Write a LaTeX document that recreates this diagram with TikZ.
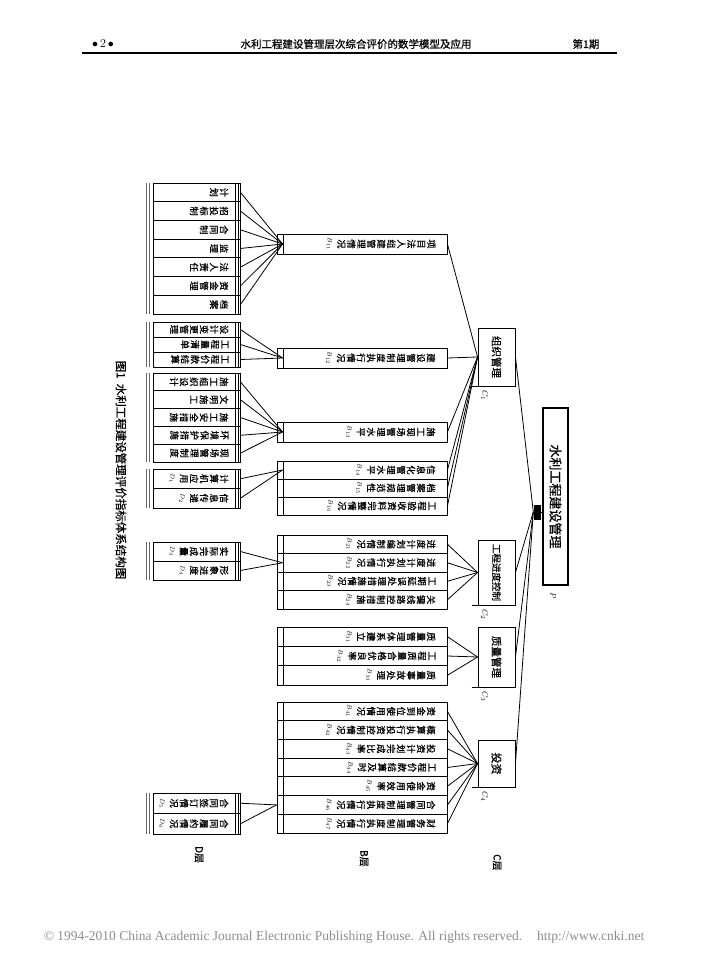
\documentclass[tikz,border=0pt]{standalone}
\usepackage{fontspec}
\newfontfamily\cjk[FakeBold=0.8]{Noto Sans CJK SC}
\newfontfamily\tms{Liberation Serif}
\usetikzlibrary{calc}
\ExplSyntaxOn
\NewDocumentCommand{\vt}{m}{
  \tl_set:No \l_tmpa_tl {#1}
  \seq_clear:N \l_tmpa_seq
  \tl_map_inline:Nn \l_tmpa_tl { \seq_put_right:Nn \l_tmpa_seq {##1} }
  \seq_use:Nn \l_tmpa_seq { \\ }
}
\ExplSyntaxOff
\newcommand\lbl[1]{{\fontsize{6.5}{7}\selectfont$#1$}}
\tikzset{
  bx/.style={draw, line width=0.9pt, inner sep=0pt},
  vtx/.style={rotate=-90, align=center, inner sep=0pt, anchor=north, font=\cjk\fontsize{9.2}{10}\selectfont},
  htx/.style={rotate=-90, inner sep=0pt, font=\cjk\fontsize{10}{10}\selectfont},
  lab/.style={rotate=-90, inner sep=0pt, anchor=west, font=\fontsize{8}{8}\selectfont},
  cn/.style={line width=0.8pt},
  deco/.style={line width=0.55pt},
}
% #1 prefix, #2 x-centre, #3 width, #4 top, #5 row height, #6 list
\newcommand\rows[6]{%
  \foreach \i/\t in {#6} {
    \node[bx, minimum width=#3, minimum height=#5] (#1-\i) at (#2, {#4+(\i-0.5)*#5}) {};
    \node[vtx] at ($(#1-\i.east)+(-12,0)$) {\vt{\t}};
  }%
}
\newcommand\ddeco[2]{%
  \draw[deco] (235.5,#1) -- (235.5,#2);
  \draw[deco] (237.8,#1) -- (237.8,#2);
  \draw[deco, black!60] (146,#1) -- (146,#2);
  \draw[deco, black!60] (149,#1) -- (149,#2);
}
\begin{document}
\begin{tikzpicture}[x=1pt,y=-1pt]
\useasboundingbox (0,0) rectangle (727,968);
% header
\node[font=\fontsize{12}{12}\selectfont] (h1) at (103,44) {$\bullet$\,2\,$\bullet$};
\node[font=\cjk\fontsize{10.5}{11}\selectfont] (h2) at (356,44) {水利工程建设管理层次综合评价的数学模型及应用};
\node[font=\cjk\fontsize{10.5}{11}\selectfont] (h3) at (586,44) {第1期};
\draw[line width=1.6pt] (82,53) -- (617,53);
% caption
\node[htx, font=\cjk\fontsize{11.5}{12}\selectfont] (cap) at (121,470) {图1\ \ 水利工程建设管理评价指标体系结构图};
% root
\node[bx, line width=1.1pt, minimum width=25, minimum height=177] (root) at (555.5,496.5) {};
\node[htx, font=\cjk\fontsize{13}{13}\selectfont] (roott) at (root) {水利工程建设管理};
\node[lab] (lp) at (553,592) {$P$};
\node[fill=black, inner sep=0pt, minimum width=7, minimum height=15] (hub) at (537,512) {};
\draw[cn] (hub.east) -- (hub.east -| root.west);
% level 1
\node[bx, minimum width=37, minimum height=58] (c1) at (496.5,357) {};
\node[bx, minimum width=37, minimum height=65] (c2) at (496.5,572.5) {};
\node[bx, minimum width=37, minimum height=60] (c3) at (496.5,657) {};
\node[bx, minimum width=37, minimum height=47] (c4) at (496.5,763.5) {};
\node[htx, font=\cjk\fontsize{10.5}{11}\selectfont] at (c1) {组织管理};
\node[htx, font=\cjk\fontsize{9.5}{10}\selectfont] at (c2) {工程进度控制};
\node[htx, font=\cjk\fontsize{10.5}{11}\selectfont] at (c3) {质量管理};
\node[htx, font=\cjk\fontsize{11}{11}\selectfont] at (c4) {投资};
\foreach \c/\k in {c1/1,c2/2,c3/3,c4/4}{
  \draw[cn] ($(\c.south west)+(-6,0)$) -- (\c.south west);
  \node[lab] (l\c) at ($(\c.south)+(-12,4)$) {$C_{\k}$};
  \draw[cn] (\c.east) -- (hub.west);
}
% level 2
\rows{b1}{362}{170}{234}{20}{1/项目法人组建管理情况{\lbl{B_{11}}}}
\rows{b2}{362}{170}{348}{20}{1/建设管理制度执行情况{\lbl{B_{12}}}}
\rows{b3}{362}{170}{422}{20}{1/施工现场管理水平{\lbl{B_{13}}}}
\rows{b4}{362}{170}{461}{18}{1/信息化管理水平{\lbl{B_{14}}},2/档案管理规范性{\lbl{B_{15}}},3/工程验收资料完整情况{\lbl{B_{16}}}}
\rows{b5}{362}{170}{535}{18.5}{1/进度计划编制情况{\lbl{B_{21}}},2/进度计划执行情况{\lbl{B_{22}}},3/工期延误处理措施情况{\lbl{B_{23}}},4/关键线路控制措施{\lbl{B_{24}}}}
\rows{b6}{362}{170}{627}{19.33}{1/质量管理体系建立{\lbl{B_{31}}},2/工程质量合格优良率{\lbl{B_{32}}},3/质量事故处理{\lbl{B_{33}}}}
\rows{b7}{362}{170}{702}{18.71}{1/资金到位使用情况{\lbl{B_{41}}},2/概算执行投资控制情况{\lbl{B_{42}}},3/投资计划完成比率{\lbl{B_{43}}},4/工程价款结算及时{\lbl{B_{44}}},5/资金使用效率{\lbl{B_{45}}},6/合同管理制度执行情况{\lbl{B_{46}}},7/财务管理制度执行情况{\lbl{B_{47}}}}
\foreach \t/\b in {234/254,348/368,422/442,461/515,535/609,627/685,702/833}
  \draw[cn] (283,\t) -- (283,\b);
\foreach \n in {b1-1,b2-1,b3-1,b4-1,b4-2,b4-3} \draw[cn] (\n.east) -- (c1.west);
\foreach \n in {b5-1,b5-2,b5-3,b5-4} \draw[cn] (\n.east) -- (c2.west);
\foreach \n in {b6-1,b6-2,b6-3} \draw[cn] (\n.east) -- (c3.west);
\foreach \n in {b7-1,b7-2,b7-3,b7-4,b7-5,b7-6,b7-7} \draw[cn] (\n.east) -- (c4.west);
% level 3
\rows{d1}{196.5}{87}{183}{18.71}{1/计划,2/招投标制,3/合同制,4/监理,5/法人责任,6/资金管理,7/档案}
\rows{d2}{196.5}{87}{322}{15}{1/设计变更管理,2/工程量清单,3/工程价款结算}
\rows{d3}{196.5}{87}{373}{17.8}{1/施工组织设计,2/文明施工,3/施工安全措施,4/环境保护措施,5/现场管理制度}
\rows{d4}{196.5}{87}{469}{19.5}{1/计算机应用{\lbl{D_{1}}},2/信息传递{\lbl{D_{2}}}}
\rows{d5}{196.5}{87}{542}{19}{1/实际完成量{\lbl{D_{3}}},2/形象进度{\lbl{D_{4}}}}
\rows{d6}{196.5}{87}{793}{20.5}{1/合同签订情况{\lbl{D_{5}}},2/合同履约情况{\lbl{D_{6}}}}
\ddeco{183}{314}\ddeco{322}{367}\ddeco{373}{462}\ddeco{469}{508}\ddeco{542}{580}\ddeco{793}{834}
\coordinate (k1) at ($(b1-1.west)+(6,0)$);
\coordinate (k2) at ($(b2-1.west)+(6,0)$);
\coordinate (k3) at ($(b3-1.west)+(6,0)$);
\coordinate (k4) at ($(b4-1.west)+(6,0)$);
\coordinate (k5) at ($(b5-2.west)+(6,0)$);
\coordinate (k6) at (b7-6.west);
\foreach \i in {1,...,7} \draw[cn] (d1-\i.east) -- (k1);
\foreach \i in {1,2,3} \draw[cn] (d2-\i.east) -- (k2);
\foreach \i in {1,...,5} \draw[cn] (d3-\i.east) -- (k3);
\foreach \i in {1,2} \draw[cn] (d4-\i.east) -- (k4);
\foreach \i in {1,2} \draw[cn] (d5-\i.east) -- (k5);
\foreach \i in {1,2} \draw[cn] (d6-\i.east) -- (k6);
% level names
\node[lab, font=\cjk\fontsize{10}{10}\selectfont] (n1) at (199,846) {D层};
\node[lab, font=\cjk\fontsize{10}{10}\selectfont] (n2) at (364,850) {B层};
\node[lab, font=\cjk\fontsize{10}{10}\selectfont] (n3) at (497,854) {C层};
% footer
\node[font=\tms\fontsize{13.5}{14}\selectfont, text=black!45] (ft) at (344,937) {© 1994-2010 China Academic Journal Electronic Publishing House. All rights reserved.\hspace{1.1em}http://www.cnki.net};
\end{tikzpicture}
\end{document}
